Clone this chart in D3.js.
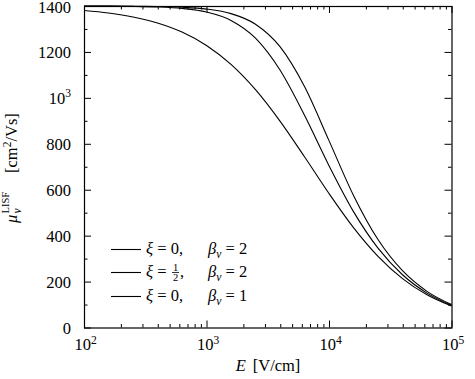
<!DOCTYPE html>
<html><head><meta charset="utf-8">
<script src="https://cdn.jsdelivr.net/npm/d3@7"></script>
<style>
body{margin:0;background:#fff}
svg text{font-family:"Liberation Serif","DejaVu Serif","Times New Roman",serif;fill:#000}
</style>
</head><body>
<svg id="c" width="475" height="379" font-family="Liberation Serif, DejaVu Serif, serif"></svg>
<script>
// ---- data ----
const fieldE = [100,158.49,251.19,398.11,630.96,1000,1584.9,2511.9,3981.1,6309.6,10000,15849,25119,39811,63096,100000];
const muXi0Beta2 = [1399.9,1399.7,1399.1,1397.8,1394.6,1386.5,1366.8,1320.7,1222.9,1049.3,813.7,575.2,382.9,247.2,157.5,99.7];
const muXiHalfBeta2 = [1399.7,1399.3,1398.3,1395.7,1389.2,1373.6,1337.1,1259.8,1121.1,924.1,704.7,504.6,345.5,229.7,149.8,96.5];
const muXi0Beta1 = [1380.7,1369.6,1352.4,1326.1,1286.4,1228.1,1145.8,1035.7,898.9,743.4,583.3,434.9,310.0,213.0,142.4,93.3];
const xTickValues = [1e2,1e3,1e4,1e5];
const xTickExponents = ["2","3","4","5"];
const yTickValues = [0,200,400,600,800,1000,1200,1400];
const yTickLabels = ["0","200","400","600","800","10^3","1200","1400"];
const legendXi = ["0","1/2","0"];
const legendBeta = ["2","2","1"];
const seriesList = [muXi0Beta2, muXiHalfBeta2, muXi0Beta1];

// ---- layout ----
const svg = d3.select("#c");
const x = d3.scaleLog().domain([1e2,1e5]).range([84,451.5]);
const y = d3.scaleLinear().domain([0,1400]).range([327.5,6]);
const FS = 16.5;

const xMinor = [];
[1e2,1e3,1e4].forEach(d=>{for(let k=2;k<=9;k++) xMinor.push(d*k);});
const yMinor = d3.range(100,1400,200);

function addAxis(axisFn, scale, vals, size, transform){
  const g = svg.append("g").attr("transform", transform)
    .call(axisFn(scale).tickValues(vals).tickSize(-size).tickFormat(""));
  g.select(".domain").remove();
  g.selectAll(".tick line").attr("stroke","#000").attr("stroke-width",1);
  return g;
}
addAxis(d3.axisBottom, x, xTickValues, 7, "translate(0,327.5)");
addAxis(d3.axisBottom, x, xMinor, 3.5, "translate(0,327.5)");
addAxis(d3.axisTop, x, xTickValues, 7, "translate(0,6)");
addAxis(d3.axisTop, x, xMinor, 3.5, "translate(0,6)");
addAxis(d3.axisLeft, y, yTickValues, 7, "translate(84,0)");
addAxis(d3.axisLeft, y, yMinor, 3.5, "translate(84,0)");
addAxis(d3.axisRight, y, yTickValues, 7, "translate(451.5,0)");
addAxis(d3.axisRight, y, yMinor, 3.5, "translate(451.5,0)");

svg.append("rect").attr("x",84.5).attr("y",6.5)
  .attr("width",452-84.5).attr("height",328-6.5)
  .attr("fill","none").attr("stroke","#000").attr("stroke-width",1.2);

yTickValues.forEach((v,i)=>{
  const t = svg.append("text").attr("x",71).attr("y",y(v)+0.5+5.5 + (i===yTickValues.length-1?0.5:0))
    .attr("text-anchor","end").attr("font-size",FS);
  const lab = yTickLabels[i];
  if(lab.includes("^")){
    const [b,e] = lab.split("^");
    t.append("tspan").text(b);
    t.append("tspan").attr("dy",-6.5).attr("font-size",11.5).text(e);
  } else t.text(lab);
});
xTickValues.forEach((v,i)=>{
  const t = svg.append("text").attr("x",x(v)+1.5).attr("y",350)
    .attr("text-anchor","middle").attr("font-size",FS);
  t.append("tspan").text("10");
  t.append("tspan").attr("dy",-6.5).attr("font-size",11.5).text(xTickExponents[i]);
});

const xt = svg.append("text").attr("x",268).attr("y",371).attr("text-anchor","middle").attr("font-size",FS);
xt.append("tspan").attr("font-style","italic").text("E");
xt.append("tspan").attr("dx",7).text("[V/cm]");

const yg = svg.append("g").attr("transform","translate(17,166) rotate(-90)");
yg.append("text").attr("x",-57).attr("y",0).attr("font-size",FS).attr("font-style","italic").text("μ");
yg.append("text").attr("x",-47.5).attr("y",4).attr("font-size",11.5).attr("font-style","italic").text("ν");
yg.append("text").attr("x",-47.5).attr("y",-8).attr("font-size",10.5).text("LISF");
const yb = yg.append("text").attr("x",-7).attr("y",0).attr("font-size",FS);
yb.append("tspan").text("[cm");
yb.append("tspan").attr("dy",-6.5).attr("font-size",11.5).text("2");
yb.append("tspan").attr("dy",6.5).text("/Vs]");

const line = d3.line().x((d,i)=>x(fieldE[i])).y(d=>y(d)).curve(d3.curveMonotoneX);
seriesList.forEach(s=>{
  svg.append("path").datum(s).attr("d",line)
    .attr("fill","none").attr("stroke","#000").attr("stroke-width",1.1);
});

const legY = [249,272,296];
legendXi.forEach((xi,i)=>{
  const ly = legY[i];
  svg.append("line").attr("x1",111).attr("x2",141).attr("y1",ly+0.5).attr("y2",ly+0.5)
    .attr("stroke","#000").attr("stroke-width",1.1);
  const t = svg.append("text").attr("x",146).attr("y",ly+5).attr("font-size",FS);
  t.append("tspan").attr("font-style","italic").text("ξ");
  if(xi.includes("/")){
    const [num,den] = xi.split("/");
    t.append("tspan").text(" = ");
    const fx = 175.5;
    svg.append("text").attr("x",fx).attr("y",ly-1).attr("text-anchor","middle").attr("font-size",10.5).text(num);
    svg.append("line").attr("x1",fx-3.5).attr("x2",fx+3.5).attr("y1",ly+0.5).attr("y2",ly+0.5).attr("stroke","#000").attr("stroke-width",0.8);
    svg.append("text").attr("x",fx).attr("y",ly+8.5).attr("text-anchor","middle").attr("font-size",10.5).text(den);
    svg.append("text").attr("x",fx+4.5).attr("y",ly+5).attr("font-size",FS).text(",");
  } else {
    t.append("tspan").text(" = " + xi + ",");
  }
  const b = svg.append("text").attr("x",208).attr("y",ly+5).attr("font-size",FS);
  b.append("tspan").attr("font-style","italic").text("β");
  b.append("tspan").attr("dy",3.5).attr("font-size",11.5).attr("font-style","italic").text("ν");
  b.append("tspan").attr("dy",-3.5).text(" = " + legendBeta[i]);
});
</script>
</body></html>
